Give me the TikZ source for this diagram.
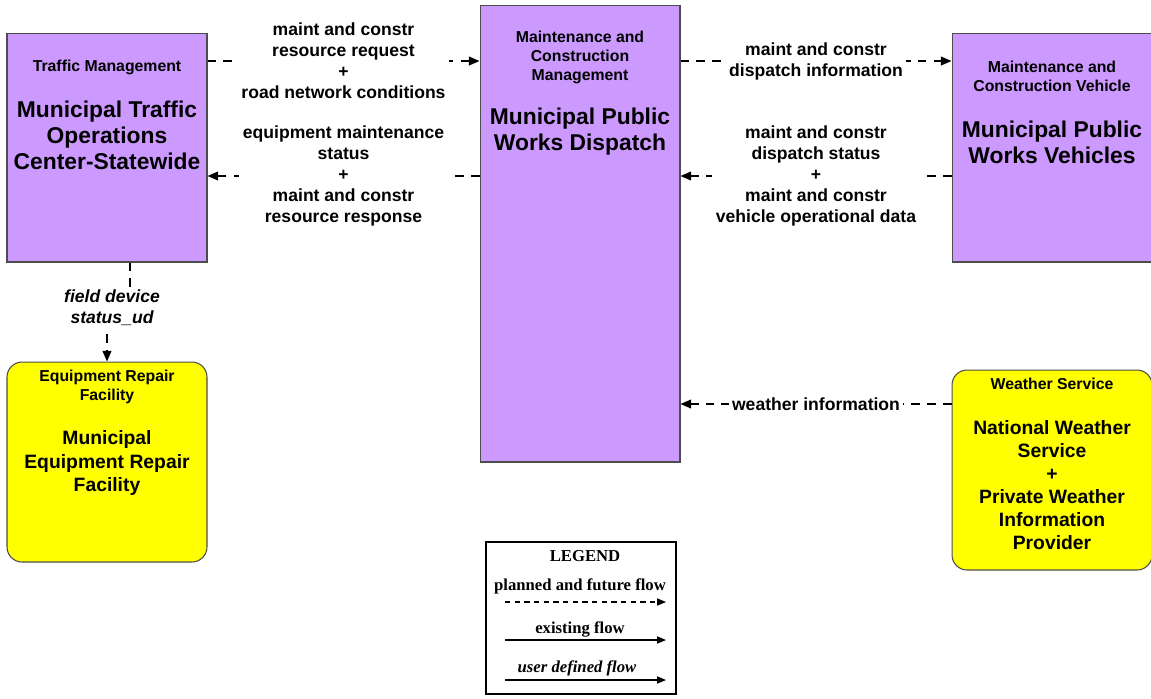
\documentclass[tikz,border=0pt]{standalone}
\usepackage{fontspec}
\setmainfont{Liberation Sans}
\newfontfamily\legendfont{Liberation Serif}
\usetikzlibrary{arrows.meta, positioning}
\definecolor{pwpurple}{HTML}{CC99FF}
\definecolor{pwyellow}{HTML}{FFFF00}

\begin{document}
\begin{tikzpicture}[x=0.02cm, y=-0.02cm,
  sys/.style={draw=black!70, line width=0.6pt, fill=pwpurple, minimum width=4cm},
  term/.style={draw=black!70, line width=0.6pt, fill=pwyellow, rounded corners=0.3cm, minimum width=4cm, minimum height=4cm},
  hdr/.style={font=\bfseries\fontsize{9}{10.8}\selectfont, align=center},
  ttl/.style={font=\bfseries\fontsize{13}{14.8}\selectfont, align=center},
  ttlsm/.style={font=\bfseries\fontsize{11}{13.1}\selectfont, align=center},
  flowlbl/.style={font=\bfseries\fontsize{10}{12}\selectfont, align=center, fill=white, inner sep=2pt},
  flow/.style={dash pattern=on 5pt off 4pt, line width=0.8pt, -{Triangle[length=6pt,width=5pt]}},
  legtxt/.style={font=\legendfont\bfseries\fontsize{9.5}{11}\selectfont}]

\useasboundingbox (0,0) rectangle (1151,698);

\node[sys, minimum height=4.58cm] (tm) at (107,147.5) {};
\node[hdr] (tmhdr) at (107,67) {Traffic Management};
\node[ttl] (tmttl) at (107,135) {Municipal Traffic\\Operations\\Center-Statewide};

\node[sys, minimum height=9.14cm] (mcm) at (580,233.5) {};
\node[hdr] (mcmhdr) at (580,57) {Maintenance and\\Construction\\Management};
\node[ttl] (mcmttl) at (580,132) {Municipal Public\\Works Dispatch};

\node[sys, minimum height=4.58cm] (mcv) at (1052,147.5) {};
\node[hdr] (mcvhdr) at (1052,76.5) {Maintenance and\\Construction Vehicle};
\node[ttl] (mcvttl) at (1052,142) {Municipal Public\\Works Vehicles};

\node[term] (erf) at (107,462) {};
\node[hdr] (erfhdr) at (107,386.5) {Equipment Repair\\Facility};
\node[ttlsm] (erfttl) at (107,463) {Municipal\\Equipment Repair\\Facility};

\node[term] (ws) at (1052,470) {};
\node[hdr] (wshdr) at (1052,384) {Weather Service};
\node[ttlsm] (wsttl) at (1052,485.5) {National Weather\\Service\\+\\Private Weather\\Information\\Provider};

\draw[flow] (tm.east |- 0,61) -- (mcm.west |- 0,61) node[flowlbl, midway] {maint and constr\\resource request\\+\\road network conditions};
\draw[flow] (mcm.west |- 0,176) -- (tm.east |- 0,176) node[flowlbl, midway] {equipment maintenance\\status\\+\\maint and constr\\resource response};
\draw[flow] (mcm.east |- 0,61) -- (mcv.west |- 0,61) node[flowlbl, midway] {maint and constr\\dispatch information};
\draw[flow] (mcv.west |- 0,176) -- (mcm.east |- 0,176) node[flowlbl, midway] {maint and constr\\dispatch status\\+\\maint and constr\\vehicle operational data};
\draw[flow] (ws.west |- 0,404) -- (mcm.east |- 0,404) node[flowlbl, midway] {weather information};

\draw[flow] (tm.south -| 130,0) -- (130,308) -| (erf.north);
\node[flowlbl, font=\bfseries\itshape\fontsize{10}{12}\selectfont] (fdlbl) at (112,308) {field device\\status\_ud};

\node[draw, line width=0.8pt, minimum width=3.8cm, minimum height=3.04cm] (legend) at (581,618) {};
\node[legtxt] (leghdr) at (585,556) {LEGEND};
\node[legtxt] (legplan) at (580,586) {planned and future flow};
\node[legtxt] (legexist) at (580,629) {existing flow};
\node[legtxt, font=\legendfont\bfseries\itshape\fontsize{9.5}{11}\selectfont] (leguser) at (577,668) {user defined flow};
\coordinate (pa) at (505,602);
\coordinate (pb) at (666,602);
\coordinate (ea) at (505,640);
\coordinate (eb) at (666,640);
\coordinate (ua) at (505,680);
\coordinate (ub) at (666,680);
\draw[dash pattern=on 3pt off 2.5pt, line width=0.6pt, -{Triangle[length=5pt,width=4pt]}] (pa) -- (pb);
\draw[line width=0.6pt, -{Triangle[length=5pt,width=4pt]}] (ea) -- (eb);
\draw[line width=0.6pt, -{Triangle[length=5pt,width=4pt]}] (ua) -- (ub);
\end{tikzpicture}
\end{document}
